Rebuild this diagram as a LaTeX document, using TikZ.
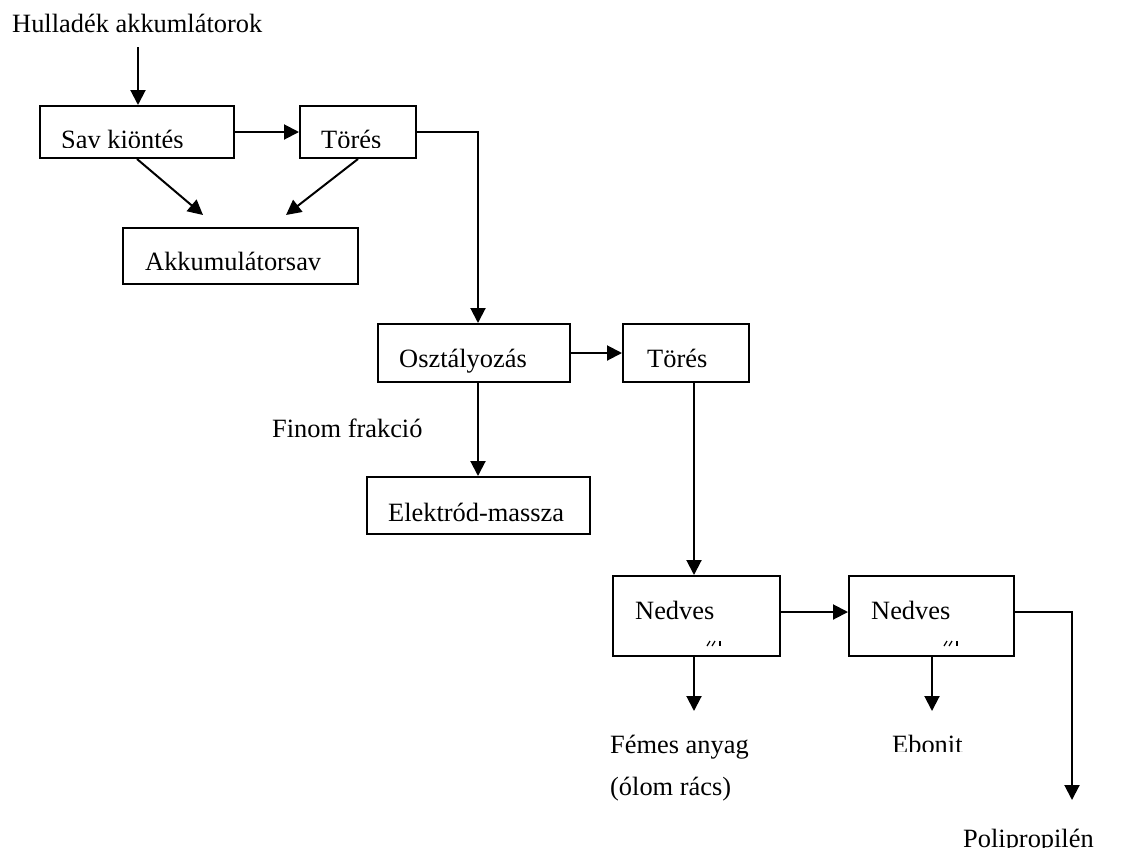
\documentclass[tikz,border=0pt]{standalone}
\usepackage{fontspec}
\setmainfont{Liberation Serif}
\usetikzlibrary{arrows.meta}
\begin{document}
\begin{tikzpicture}[x=1pt,y=-1pt,
  box/.style={draw, line width=2pt, inner sep=0pt},
  lbl/.style={anchor=base west, inner sep=0pt, font=\fontsize{26.4}{32}\selectfont},
  arr/.style={line width=2pt, -{Triangle[length=15pt,width=15pt]}},
  frag/.style={line width=1.2pt}]
\useasboundingbox (0,0) rectangle (1135,847);

% process boxes
\node[box, minimum width=194pt, minimum height=52pt] (sav)  at (137,132) {};
\node[box, minimum width=116pt, minimum height=52pt] (tor1) at (358,132) {};
\node[box, minimum width=235pt, minimum height=56pt] (akku) at (240.5,256) {};
\node[box, minimum width=192pt, minimum height=58pt] (oszt) at (474,353) {};
\node[box, minimum width=126pt, minimum height=58pt] (tor2) at (686,353) {};
\node[box, minimum width=223pt, minimum height=57pt] (elek) at (478.5,505.5) {};
\node[box, minimum width=167pt, minimum height=80pt] (ned1) at (696.5,616) {};
\node[box, minimum width=165pt, minimum height=80pt] (ned2) at (931.5,616) {};

% texts
\node[lbl] (src) at (12,32) {Hulladék akkumlátorok};
\begin{scope}
  \clip (0,0) rectangle (1135,147);
  \node[lbl] (tsav) at (61,148.5) {Sav kiöntés};
  \node[lbl] (ttor1) at (321,148.5) {Törés};
\end{scope}
\node[lbl] (takku) at (145,270.5) {Akkumulátorsav};
\node[lbl] (toszt) at (399,367) {Osztályozás};
\node[lbl] (ttor2) at (647,367) {Törés};
\node[lbl] (tfin) at (272,437) {Finom frakció};
\node[lbl] (telek) at (388,521) {Elektród-massza};
\node[lbl] (tned1) at (635,619) {Nedves};
\node[lbl] (tned2) at (871,619) {Nedves};
\node[lbl] (tfem) at (610,753) {Fémes anyag};
\node[lbl] (tolom) at (610,795) {(ólom rács)};
\begin{scope}
  \clip (0,0) rectangle (1135,751);
  \node[lbl] (tebo) at (892,753) {Ebonit};
\end{scope}
\node[lbl] (tpp) at (963,847.5) {Polipropilén};

% cut-off remains of the second line in the Nedves boxes
\foreach \dx in {0,237}{
  \draw[frag] (707+\dx,646) -- (710+\dx,641);
  \draw[frag] (712+\dx,646) -- (715+\dx,641);
  \draw[frag] (720+\dx,641) -- (720+\dx,646);
}

% free ends of connectors
\coordinate (start) at (138,47);
\coordinate (ak1) at (203,215);
\coordinate (ak2) at (286,215);
\coordinate (fine) at (478,476);
\coordinate (fem) at (694,711);
\coordinate (ebo) at (932,711);
\coordinate (pp) at (1072,800);

% connectors
\draw[arr] (start) -- (start |- sav.north);
\draw[arr] (sav.east) -- (tor1.west);
\draw[arr] (sav.south) -- (ak1);
\draw[arr] (tor1.south) -- (ak2);
\draw[arr] (tor1.east) -| ([xshift=4pt]oszt.north);
\draw[arr] (oszt.east) -- (tor2.west);
\draw[arr] (fine |- oszt.south) -- (fine |- elek.north);
\draw[arr] ([xshift=8pt]tor2.south) -- ([xshift=8pt]tor2.south |- ned1.north);
\draw[arr] (ned1.east |- 0,612) -- (ned2.west |- 0,612);
\draw[arr] (fem |- ned1.south) -- (fem);
\draw[arr] (ebo |- ned2.south) -- (ebo);
\draw[arr] (ned2.east |- 0,612) -| (pp);
\end{tikzpicture}
\end{document}
